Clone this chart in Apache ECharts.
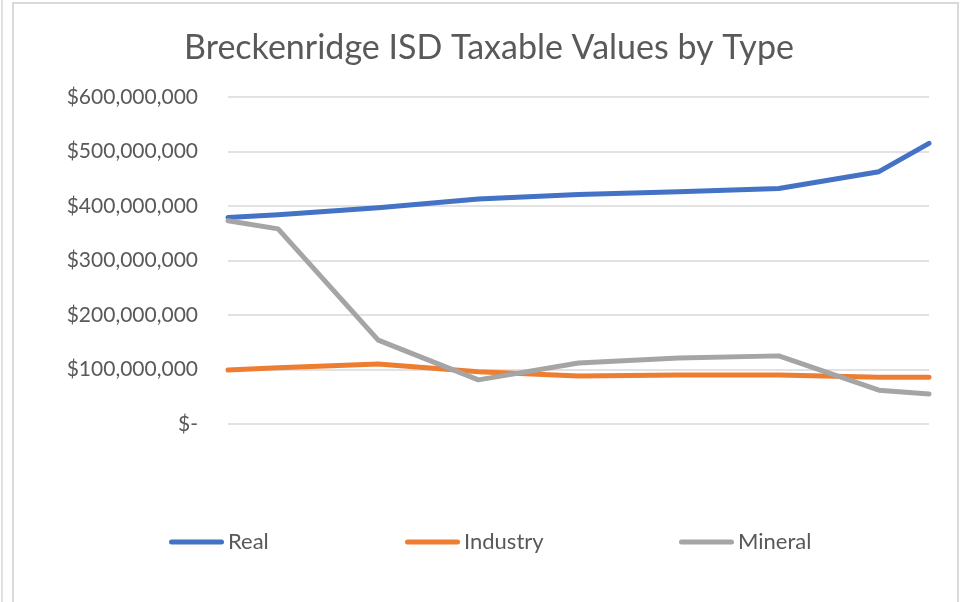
<!DOCTYPE html>
<html>
<head>
<meta charset="utf-8">
<script src="https://cdn.jsdelivr.net/npm/echarts@6/dist/echarts.min.js"></script>
<style>html,body{margin:0;padding:0;background:#fff;}#c{width:967px;height:602px;}</style>
</head>
<body>
<div id="c"></div>
<script>
// Period positions (x) of the plotted points; no axis labels are shown in the reference
var periods = [0, 1, 3, 5, 7, 9, 11, 13, 14];
var realValues     = [379e6, 384e6, 397e6, 413e6, 421e6, 426e6, 432e6, 463e6, 515e6];
var industryValues = [99e6, 103e6, 110e6, 96e6, 88e6, 90e6, 90e6, 86e6, 86e6];
var mineralValues  = [373e6, 358e6, 154e6, 81e6, 112e6, 121e6, 125e6, 62e6, 55e6];
var seriesNames = ['Real', 'Industry', 'Mineral'];
var seriesColors = ['#4472C4', '#ED7D31', '#A5A5A5'];
var yTicks = [0, 100e6, 200e6, 300e6, 400e6, 500e6, 600e6];

function pairs(xs, ys) { return xs.map(function (x, i) { return [x, ys[i]]; }); }
function fmt(v) {
  if (v === 0) return '$-';
  return '$' + Math.round(v).toString().replace(/\B(?=(\d{3})+(?!\d))/g, ',');
}
var FONT = 'Lato';
var chart = echarts.init(document.getElementById('c'), null, { renderer: 'canvas' });
var allValues = [realValues, industryValues, mineralValues];
var legendLefts = [164, 400, 674];
chart.setOption({
  backgroundColor: '#fff',
  animation: false,
  graphic: [
    { type: 'line', shape: { x1: 2, y1: 0, x2: 2, y2: 602 }, style: { stroke: '#e0e0e0', lineWidth: 2 } },
    { type: 'polyline', shape: { points: [[13, 602], [13, 3], [958, 3], [958, 602]] }, style: { stroke: '#d9d9d9', lineWidth: 2, fill: null } }
  ],
  title: {
    text: 'Breckenridge ISD Taxable Values by Type',
    left: 484, textAlign: 'center', top: 26,
    textStyle: { fontFamily: FONT, fontSize: 34, fontWeight: 'normal', color: '#595959' }
  },
  legend: seriesNames.map(function (n, i) {
    return {
      data: [{ name: n, icon: 'path://M2.5,0 L52.5,0 A2.5,2.5 0 0 1 52.5,5 L2.5,5 A2.5,2.5 0 0 1 2.5,0 Z' }],
      left: legendLefts[i], top: 526,
      itemWidth: 55, itemHeight: 5, itemGap: 0,
      textStyle: { fontFamily: FONT, fontSize: 22, color: '#595959', padding: [0, 0, 0, -1] },
      selectedMode: false
    };
  }),
  grid: { left: 228, right: 38, top: 97, bottom: 178 },
  xAxis: {
    type: 'value', min: 0, max: 14, show: false
  },
  yAxis: {
    type: 'value', min: yTicks[0], max: yTicks[yTicks.length - 1], interval: 100e6,
    axisLine: { show: false }, axisTick: { show: false },
    axisLabel: { formatter: fmt, fontFamily: FONT, fontSize: 21, color: '#595959', margin: 30 },
    splitLine: { lineStyle: { color: '#d9d9d9', width: 1.5 } }
  },
  series: seriesNames.map(function (n, i) {
    return {
      name: n, type: 'line', data: pairs(periods, allValues[i]),
      showSymbol: false, symbol: 'none', smooth: false,
      lineStyle: { color: seriesColors[i], width: 5, cap: 'round', join: 'round' },
      itemStyle: { color: seriesColors[i] }
    };
  })
});
</script>
</body>
</html>
